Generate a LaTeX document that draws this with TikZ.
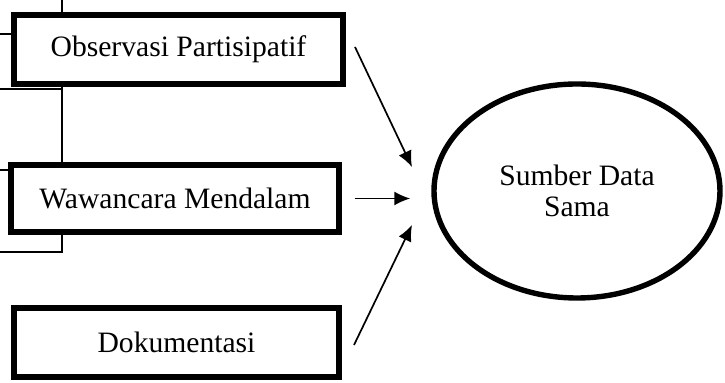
\documentclass[tikz,border=0pt]{standalone}
\usepackage{fontspec}
\setmainfont{Liberation Serif}
\usetikzlibrary{arrows.meta,shapes.geometric}
\begin{document}
\begin{tikzpicture}[x=0.5pt,y=-0.5pt,
  box/.style={draw,line width=2.7pt,inner sep=0pt,font=\fontsize{14.8}{17}\selectfont},
  thinline/.style={line width=0.55pt},
  arr/.style={line width=0.85pt,-{Latex[length=8pt,width=7pt]}}]
\useasboundingbox (0,0) rectangle (725,383);
\node[box,minimum width=164.5pt,minimum height=34.5pt] (obs) at (178.5,49.5) {Observasi Partisipatif};
\node[box,minimum width=164pt,minimum height=33.5pt] (waw) at (175,198.5) {Wawancara Mendalam};
\node[box,minimum width=162.5pt,minimum height=34.5pt] (dok) at (176.5,342.5) {Dokumentasi};
\node[ellipse,draw,line width=2.7pt,inner sep=0pt,minimum width=143pt,minimum height=107pt,
  align=center,font=\fontsize{14.8}{15.5}\selectfont] (sum) at (577,191) {Sumber Data\\Sama};
\coordinate (t1) at (62,0);
\coordinate (l1) at (0,34);
\coordinate (l2) at (0,89);
\coordinate (l3) at (0,170);
\coordinate (l4) at (0,252);
\draw[thinline] (t1) -- (t1 |- obs.north);
\draw[thinline] (l1) -- (l1 -| obs.west);
\draw[thinline] (l2) -| (t1 |- obs.south);
\draw[thinline] (t1 |- obs.south) -- (t1 |- waw.north);
\draw[thinline] (l3) -- (l3 -| waw.west);
\draw[thinline] (t1 |- waw.south) |- (l4);
\coordinate (a1) at (355,47);
\coordinate (b1) at (412,167);
\coordinate (a3) at (354,345);
\coordinate (b3) at (412,225);
\draw[arr] (a1) -- (b1);
\draw[arr,shorten <=6.5pt,shorten >=10.5pt] (waw.east) -- (waw.east -| sum.west);
\draw[arr] (a3) -- (b3);
\end{tikzpicture}
\end{document}
